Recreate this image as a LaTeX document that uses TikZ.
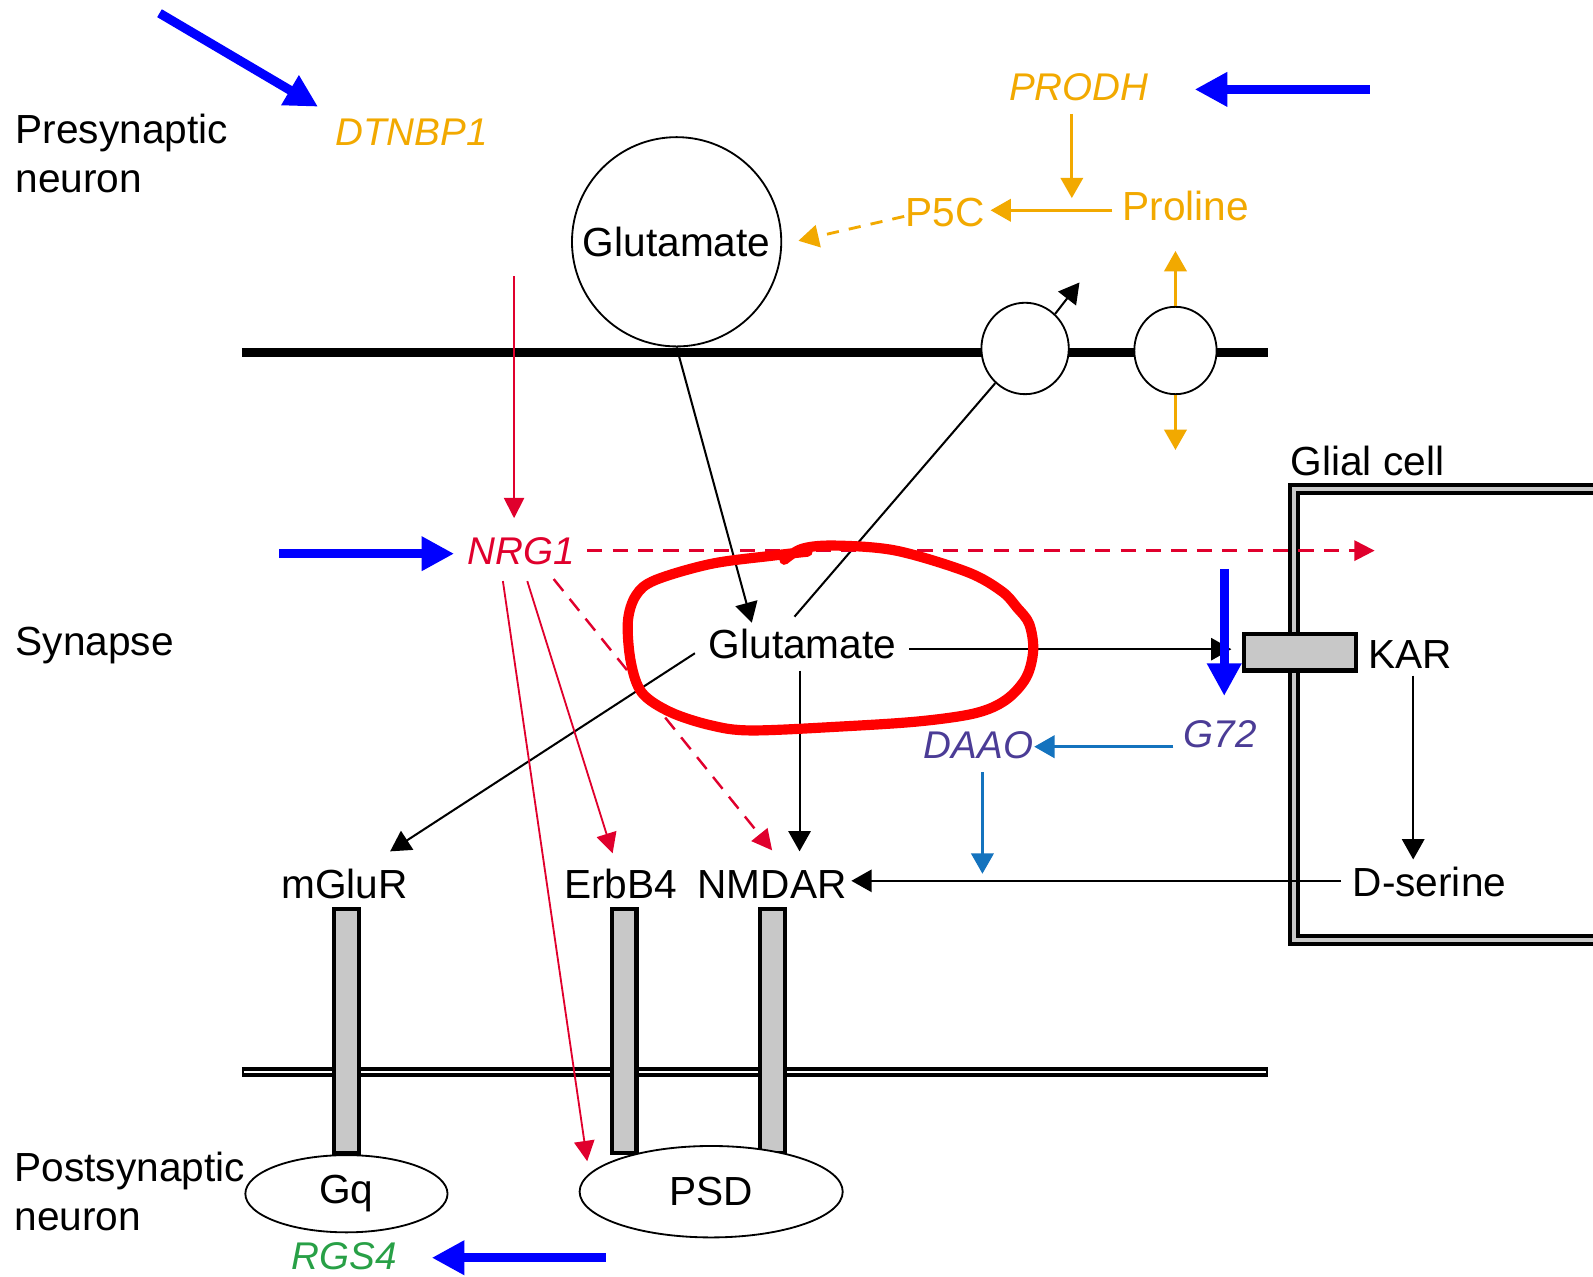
\documentclass[tikz,border=0pt]{standalone}
\usepackage{fontspec}
\setmainfont{Liberation Sans}
\usetikzlibrary{arrows.meta,shapes.geometric,calc}

\definecolor{orgc}{RGB}{242,169,0}
\definecolor{nrgc}{RGB}{224,0,45}
\definecolor{purc}{RGB}{75,60,150}
\definecolor{stlc}{RGB}{20,115,190}
\definecolor{grnc}{RGB}{40,160,70}
\definecolor{barg}{RGB}{200,200,200}
\definecolor{bigb}{RGB}{0,0,255}
\definecolor{markc}{RGB}{255,0,0}

\begin{document}
\begin{tikzpicture}[x=0.5pt,y=-0.5pt,
  txt/.style={inner sep=0pt, anchor=base, font=\fontsize{20}{24}\selectfont},
  gene/.style={inner sep=0pt, anchor=base, font=\fontsize{19}{23}\selectfont\itshape},
  side/.style={inner sep=0pt, anchor=north west, align=left, font=\fontsize{20}{24}\selectfont},
  tipA/.style={-{Triangle[length=10pt,width=11pt]}},
  blk/.style={draw=black, line width=1pt, tipA},
  org/.style={draw=orgc, line width=1.4pt, tipA},
  nrgl/.style={draw=nrgc, line width=0.9pt, -{Triangle[length=10pt,width=10pt]}},
  nrgd/.style={nrgl, line width=1.2pt, dash pattern=on 7.5pt off 5pt},
  stl/.style={draw=stlc, line width=1.4pt, tipA},
  bigblue/.style={draw=bigb, line width=4.5pt, -{Triangle[length=16pt,width=16pt]}},
  bar/.style={draw=black, fill=barg, line width=2pt, minimum width=12pt, minimum height=120pt, inner sep=0pt},
  blob/.style={draw=black, fill=white, line width=0.9pt, ellipse, inner sep=0pt},
]
\useasboundingbox (0,0) rectangle (1568,1256);
\fill[white] (0,0) rectangle (1568,1256);

% membranes
\draw[line width=4.5pt] (238,347) -- (1248,347);
\draw[line width=5pt] (238,1055) -- (1248,1055);
\draw[line width=0.9pt, white] (240,1055) -- (1246,1055);

% glial cell wall
\draw[line width=6pt, line join=miter] (1568,481) -- (1274,481) -- (1274,925) -- (1568,925);
\draw[line width=2pt, barg, line join=miter] (1568,481) -- (1274,481) -- (1274,925) -- (1568,925);

% receptors in the postsynaptic membrane
\node[bar] (mbar) at (341,1015) {};
\node[bar] (ebar) at (614.5,1015) {};
\node[bar] (nbar) at (760.5,1015) {};
\node[blob, minimum width=99.5pt, minimum height=38pt, font=\fontsize{20}{24}\selectfont] (gq) at (341,1175) {Gq};
\node[blob, minimum width=129.5pt, minimum height=45pt, font=\fontsize{20}{24}\selectfont] (psd) at (700,1173) {PSD};

% presynaptic vesicle and transporters
\node[circle, draw=black, fill=white, line width=0.9pt, minimum size=103pt, inner sep=0pt, font=\fontsize{20}{24}\selectfont] (vesicle) at (666,238) {Glutamate};
\node[blob, minimum width=43pt, minimum height=45pt] (t1) at (1009,343) {};
\node[blob, minimum width=40.5pt, minimum height=43pt] (t2) at (1157,345) {};

% kainate receptor on the glial cell
\node[draw=black, fill=barg, line width=2pt, minimum width=55.5pt, minimum height=18pt, inner sep=0pt] (kar) at (1279.5,642) {};

% side labels
\node[side] (pre) at (15,112) {Presynaptic\\neuron};
\node[side] (syn) at (15,617) {Synapse};
\node[side] (post) at (14,1134) {Postsynaptic\\neuron};

% labels
\node[gene, text=orgc] (dtnbp) at (405,143) {DTNBP1};
\node[gene, text=orgc] (prodh) at (1062,99) {PRODH};
\node[txt, text=orgc] (proline) at (1167,217) {Proline};
\node[txt, text=orgc] (p5c) at (930,223) {P5C};
\node[gene, text=nrgc] (nrg) at (513,556) {NRG1};
\node[txt] (glial) at (1346,468) {Glial cell};
\node[txt] (glu) at (790,648) {Glutamate};
\node[txt] (karlbl) at (1388,658) {KAR};
\node[gene, text=purc] (g72) at (1201,736) {G72};
\node[gene, text=purc] (daao) at (963,747) {DAAO};
\node[txt] (mglur) at (339,884) {mGluR};
\node[txt] (erbb) at (611,884) {ErbB4};
\node[txt] (nmdar) at (760,884) {NMDAR};
\node[txt] (dser) at (1407,882) {D-serine};
\node[gene, text=grnc] (rgs) at (339,1250) {RGS4};

% proline metabolism
\draw[org] ([shift={(-7,13)}]prodh.base) -- ([shift={(-7,96)}]prodh.base);
\draw[org] ([shift={(-72,-10)}]proline.base) -- ([shift={(45,-16)}]p5c.base);
\draw[org, dash pattern=on 6pt off 5pt] ([shift={(-40,-10)}]p5c.base) -- ([shift={(16,-1)}]vesicle.east);
\draw[org] (t2.north) -- ++(0,-54);
\draw[org] (t2.south) -- ++(0,54);

% glutamate pathways
\draw[blk] (vesicle.south) -- ([shift={(-50,-35)}]glu.base);
\draw[line width=1pt] ([shift={(-8,-41)}]glu.base) -- (t1);
\draw[blk] (t1.49) -- ++(24,-31);
\draw[blk] ([shift={(-3,12)}]glu.base) -- ([shift={(27,-46)}]nmdar.base);
\draw[blk] ([shift={(-106,-5)}]glu.base) -- ([shift={(45,-46)}]mglur.base);
\draw[blk] ([shift={(105,-9)}]glu.base) -- ([shift={(-10,-3)}]kar.west);
\draw[blk] ([shift={(3,7)}]karlbl.base) -- ([shift={(-16,-36)}]dser.base);
\draw[blk] ([shift={(-87,-15)}]dser.base) -- ([shift={(78,-17)}]nmdar.base);

% neuregulin pathways
\draw[nrgl] ([shift={(-7,-284)}]nrg.base) -- ([shift={(-7,-46)}]nrg.base);
\draw[nrgd] ([shift={(65,-14)}]nrg.base) -- ([shift={(840,-14)}]nrg.base);
\draw[nrgl] ([shift={(6,16)}]nrg.base) -- ([shift={(-8,-44)}]erbb.base);
\draw[nrgl] ([shift={(-18,16)}]nrg.base) -- ([shift={(-122,-30)}]psd.center);
\draw[nrgd] ([shift={(32,14)}]nrg.base) -- ([shift={(0,-47)}]nmdar.base);

% D-amino acid oxidase
\draw[stl] ([shift={(-46,-1)}]g72.base) -- ([shift={(55,-12)}]daao.base);
\draw[stl] ([shift={(4,13)}]daao.base) -- ([shift={(4,113)}]daao.base);

% gene pointers
\draw[bigblue] ([shift={(-248,-130)}]dtnbp.base) -- ([shift={(-92,-38)}]dtnbp.base);
\draw[bigblue] ([shift={(286,-11)}]prodh.base) -- ([shift={(114,-11)}]prodh.base);
\draw[bigblue] ([shift={(-238,-11)}]nrg.base) -- ([shift={(-66,-11)}]nrg.base);
\draw[bigblue] ([shift={(4,-176)}]g72.base) -- ([shift={(4,-51)}]g72.base);
\draw[bigblue] ([shift={(257,-12)}]rgs.base) -- ([shift={(86,-12)}]rgs.base);

% hand-drawn ring
\draw[markc, line width=5pt, line cap=round, line join=round]
  plot[smooth, tension=0.55] coordinates {(795,543) (760,547) (700,555) (645,571) (626,586) (618,612) (621,652) (632,682) (660,701) (700,714) (740,719) (830,715) (905,710) (960,702) (990,689) (1010,667) (1017,640) (1013,614) (1001,598) (986,582) (952,563) (882,542) (822,537) (790,540) (772,551)};
\end{tikzpicture}
\end{document}
